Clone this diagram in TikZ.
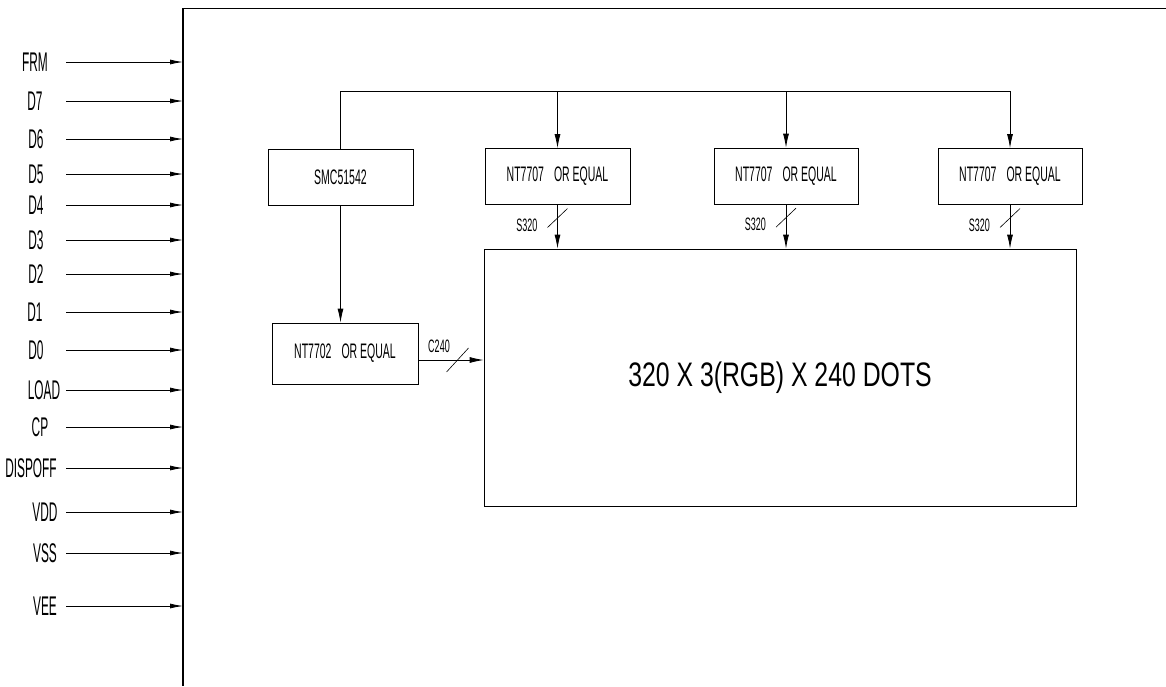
\documentclass[tikz,border=0pt]{standalone}
\usepackage{fontspec}
\newfontfamily\cadfont[FakeStretch=0.5]{Liberation Sans}
\newfontfamily\cadpin[FakeStretch=0.44]{Liberation Sans}
\newfontfamily\cadwide[FakeStretch=0.73]{Liberation Sans}
\usetikzlibrary{arrows.meta}

\tikzset{
  blk/.style={draw, line width=0.8pt, rectangle, inner sep=0pt, minimum width=145, minimum height=56,
    font=\cadfont\fontsize{21}{21}\selectfont},
  sig/.style={-{Latex[length=14pt,width=6pt]}, line width=0.8pt},
  pinlbl/.style={inner sep=0pt, font=\cadpin\fontsize{27}{27}\selectfont},
  buslbl/.style={inner sep=0pt, font=\cadfont\fontsize{18}{18}\selectfont}
}

\begin{document}
\begin{tikzpicture}[x=1pt, y=-1pt]
\useasboundingbox (0,0) rectangle (1166,686);

\draw[line width=0.8pt] (183,8) -- (1166,8); % frame top
\draw[line width=1.6pt] (183,8) -- (183,686); % interface line

% input signals
\foreach \name/\y/\lx [count=\i] in {FRM/62/35, D7/101/35, D6/139/36, D5/174/36, D4/205/36,
  D3/240/36, D2/274/36, D1/312/35, D0/350/36, LOAD/390/44, CP/427/40, DISPOFF/468/31,
  VDD/512/45, VSS/553/45, VEE/606/45}
{
  \node[pinlbl] (lbl\i) at (\lx,\y) {\name};
  \coordinate (in\i) at (66,\y);
  \coordinate (pin\i) at (183,\y);
  \draw[sig, -{Latex[length=13pt,width=5pt]}] (in\i) -- (pin\i);
}

% blocks
\node[blk] (smc) at (340.5,177) {SMC51542};
\node[blk] (drvA) at (557.5,176.5) {NT7707\hspace{10pt}OR EQUAL};
\node[blk, minimum width=144] (drvB) at (786,176) {NT7707\hspace{10pt}OR EQUAL};
\node[blk, minimum width=144] (drvC) at (1010,176.5) {NT7707\hspace{10pt}OR EQUAL};
\node[blk, minimum width=146, minimum height=61] (com) at (345,353.5) {NT7702\hspace{10pt}OR EQUAL};
\node[blk, minimum width=592, minimum height=257, font=\cadwide\fontsize{34}{34}\selectfont]
  (dots) at (780,377.5) {320 X 3(RGB) X 240 DOTS};

% control bus
\coordinate (bus) at (0,91);
\draw[line width=0.8pt] (smc.north) |- (drvC.north |- bus);
\foreach \d in {drvA,drvB,drvC}
  \draw[sig] (\d.north |- bus) -- (\d.north);

% segment outputs
\foreach \d in {drvA,drvB,drvC}
{
  \draw[sig] (\d.south) -- coordinate[pos=0.3] (s\d) (\d.south |- dots.north);
  \draw[line width=0.6pt] ([shift={(-10,9.5)}]s\d) -- ([shift={(10,-9.5)}]s\d);
  \node[buslbl, anchor=east] (l\d) at ([shift={(-20,7)}]s\d) {S320};
}

% common output
\draw[sig] (smc.south) -- (smc.south |- com.north);
\draw[sig] (com.east |- 0,360) -- coordinate[pos=0.6] (scom) (dots.west |- 0,360);
\draw[line width=0.6pt] ([shift={(-11,12)}]scom) -- ([shift={(11,-12)}]scom);
\node[buslbl] (lcom) at (439,346) {C240};

\end{tikzpicture}
\end{document}
